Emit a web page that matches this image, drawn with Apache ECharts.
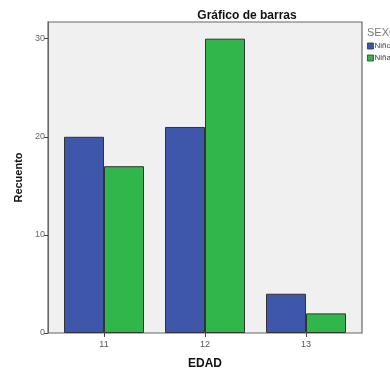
<!DOCTYPE html>
<html>
<head>
<meta charset="utf-8">
<script src="https://cdn.jsdelivr.net/npm/echarts@6/dist/echarts.min.js"></script>
<style>
html,body{margin:0;padding:0;background:#fff;}
#chart{width:390px;height:369px;}
</style>
</head>
<body>
<div id="chart"></div>
<script>
// Ages on the horizontal axis and counts per sex group
const categories = ['11', '12', '13'];
const ninos = [20, 21, 4];
const ninas = [17, 30, 2];
const yTicks = [0, 10, 20, 30];

const chart = echarts.init(document.getElementById('chart'));
const yMax = 31.7;
const font = 'Liberation Sans, Arial, sans-serif';

chart.setOption({
  animation: false,
  backgroundColor: '#ffffff',
  title: {
    text: 'Gráfico de barras',
    left: 242, top: 5, textAlign: 'center',
    textStyle: { fontFamily: font, fontSize: 12, fontWeight: 'bold', color: '#111' }
  },
  graphic: [
    { type: 'text', left: 367, top: 27,
      style: { text: 'SEXO', fontFamily: font, fontSize: 11, fill: '#777' } }
  ],
  legend: {
    orient: 'vertical', left: 367, top: 42,
    padding: 0,
    itemWidth: 6, itemHeight: 6, itemGap: 4,
    icon: 'rect',
    itemStyle: { borderColor: '#333', borderWidth: 0.8 },
    textStyle: { fontFamily: font, fontSize: 8, color: '#444', padding: [0, 0, 0, -4] },
    data: ['Niños', 'Niñas']
  },
  grid: [
    { left: 48, top: 22, width: 314, height: 311, show: true, outerBoundsMode: 'none',
      backgroundColor: '#f0f0f0', borderColor: '#666', borderWidth: 1.2 },
    { left: 53.5, top: 22, width: 303, height: 311, outerBoundsMode: 'none' }
  ],
  xAxis: [
    { gridIndex: 0, type: 'value', min: 0, max: 1, show: false },
    { gridIndex: 1, type: 'category', data: categories,
      name: 'EDAD', nameLocation: 'middle', nameGap: 25,
      nameTextStyle: { fontFamily: font, fontSize: 12, fontWeight: 'bold', color: '#111' },
      axisLine: { show: false },
      axisTick: { show: true, alignWithLabel: true, length: 4, lineStyle: { color: '#444' } },
      axisLabel: { fontFamily: font, fontSize: 9, color: '#555', margin: 7 } }
  ],
  yAxis: [
    { gridIndex: 0, type: 'value', min: 0, max: yMax, interval: 10,
      name: 'Recuento', nameLocation: 'middle', nameGap: 22,
      nameTextStyle: { fontFamily: font, fontSize: 11, fontWeight: 'bold', color: '#111' },
      axisLine: { show: true, lineStyle: { color: '#666' } },
      axisTick: { show: true, length: 4, lineStyle: { color: '#444' },
        customValues: yTicks },
      axisLabel: { fontFamily: font, fontSize: 9, color: '#666', margin: 3,
        customValues: yTicks },
      splitLine: { show: false } },
    { gridIndex: 1, type: 'value', min: 0, max: yMax, show: false }
  ],
  series: [
    { name: 'Niños', type: 'bar', xAxisIndex: 1, yAxisIndex: 1, data: ninos,
      barWidth: 40, barGap: '0%',
      itemStyle: { color: '#3e57ab', borderColor: '#333', borderWidth: 1 } },
    { name: 'Niñas', type: 'bar', xAxisIndex: 1, yAxisIndex: 1, data: ninas,
      barWidth: 40, barGap: '0%',
      itemStyle: { color: '#31b64b', borderColor: '#333', borderWidth: 1 } }
  ]
});
</script>
</body>
</html>
